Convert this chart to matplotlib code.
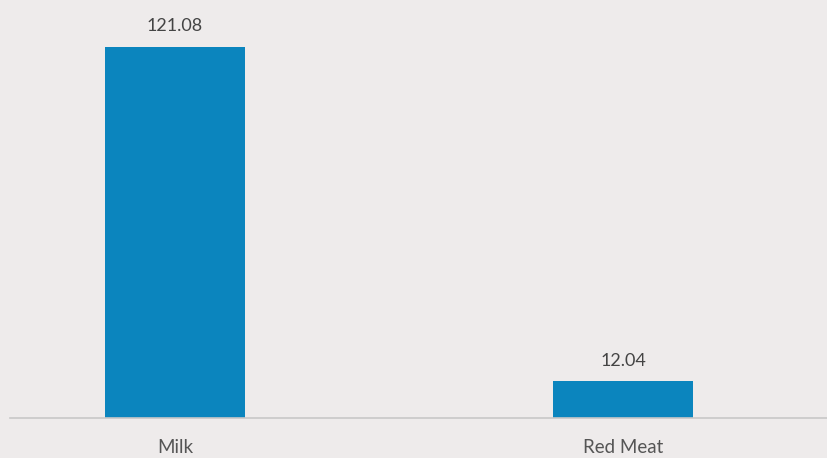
import matplotlib.pyplot as plt

# ── Data ──────────────────────────────────────────────────────────────────────
categories = ["Milk", "Red Meat"]
values     = [121.08, 12.04]
labels     = ["121.08", "12.04"]

# ── Figure ────────────────────────────────────────────────────────────────────
bg = "#EEEBEB"
fig = plt.figure(figsize=(8.28, 4.58), dpi=100, facecolor=bg)
ax = fig.add_axes([10/828, 40/458, 818/828, 418/458])
ax.set_facecolor(bg)

x = range(len(categories))
bars = ax.bar(x, values, width=0.3125, color="#0B85BE", zorder=2)

for b, lab in zip(bars, labels):
    ax.annotate(lab, (b.get_x() + b.get_width()/2, b.get_height()),
                xytext=(0, 9), textcoords="offset points",
                ha="center", va="bottom", fontsize=13,
                family="Lato", color="#444444")

ax.set_xlim(-0.368, 1.457)
ax.set_ylim(0, 136.4)
ax.set_xticks(list(x))
ax.set_xticklabels(categories, family="Lato", fontsize=13.5, color="#555555")
ax.tick_params(axis="x", length=0, pad=15)
ax.set_yticks([])

for s in ["top", "right", "left"]:
    ax.spines[s].set_visible(False)
ax.spines["bottom"].set_color("#C8C8C8")
ax.spines["bottom"].set_linewidth(1.2)

fig.savefig("out.png", dpi=100, facecolor=bg)
